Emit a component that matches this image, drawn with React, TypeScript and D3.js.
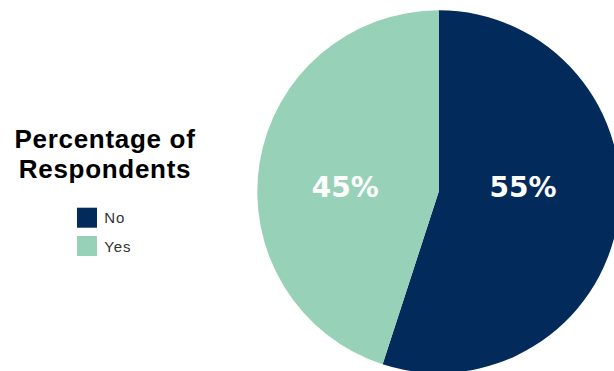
import React from "react";
import * as d3 from "d3";

const categories = ["No", "Yes"];
const values = [55, 45];
const labels = ["55%", "45%"];
const colors = ["#022b5c", "#97d2b8"];
const titleLines = ["Percentage of", "Respondents"];

const W = 614;
const H = 371;
const cx = 438.7;
const cy = 191.7;
const R = 181.4;

export default function App() {
  const pie = d3.pie<number>().sort(null).value((d) => d)(values);
  const arc = d3.arc<d3.PieArcDatum<number>>().innerRadius(0).outerRadius(R);
  const labelArc = d3.arc<d3.PieArcDatum<number>>().innerRadius(90).outerRadius(90);
  const color = d3.scaleOrdinal<string, string>().domain(categories).range(colors);
  const legendY = d3.scalePoint<string>().domain(categories).range([207.7, 236]);

  return (
    <svg width={W} height={H} style={{ position: "absolute", left: 0, top: 0, background: "#fff" }}>
      <g transform={`translate(${cx},${cy})`}>
        {pie.map((p, i) => (
          <path key={i} d={arc(p) || ""} fill={color(categories[i])} />
        ))}
        {pie.map((p, i) => {
          const [x] = labelArc.centroid(p);
          return (
            <text
              key={"l" + i}
              x={x - 4.5}
              y={5.6}
              textAnchor="middle"
              fill="#fff"
              fontFamily="DejaVu Sans"
              fontWeight="bold"
              fontSize={28}
            >
              {labels[i]}
            </text>
          );
        })}
      </g>
      <text
        textAnchor="middle"
        fontFamily="Liberation Sans, Arial, sans-serif"
        fontWeight="bold"
        fontSize={26}
        letterSpacing={0.7}
        fill="#000"
      >
        {titleLines.map((t, i) => (
          <tspan key={i} x={105} y={148.3 + i * 30}>
            {t}
          </tspan>
        ))}
      </text>
      {categories.map((c) => (
        <g key={c} transform={`translate(77,${legendY(c)})`}>
          <rect width={20} height={20} fill={color(c)} />
          <text
            x={27.3}
            y={15.5}
            fontFamily="Liberation Sans, Arial, sans-serif"
            fontSize={15}
            letterSpacing={0.9}
            fill="#333"
          >
            {c}
          </text>
        </g>
      ))}
    </svg>
  );
}
